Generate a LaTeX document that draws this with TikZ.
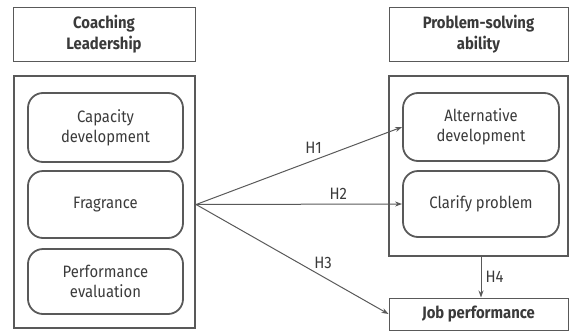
\documentclass[tikz,border=0pt]{standalone}
\usepackage{fontspec}
\setmainfont{Fira Sans}[FakeStretch=0.9]
\usetikzlibrary{arrows.meta}
\definecolor{ln}{HTML}{595959}
\definecolor{tx}{HTML}{3a3a3a}
\begin{document}
\begin{tikzpicture}[x=1pt,y=-1pt,
  every node/.style={text=tx, font=\fontsize{16.5}{20}\selectfont, align=center, inner sep=0pt},
  titlebox/.style={draw=ln, line width=1pt, font=\fontsize{16.5}{21}\selectfont\bfseries},
  outerbox/.style={draw=ln, line width=2.2pt},
  subbox/.style={draw=ln, line width=1.8pt, rounded corners=15pt},
  arr/.style={draw=ln, line width=1pt, -{Stealth[length=7pt,width=5pt]}},
  lbl/.style={font=\fontsize{16.5}{20}\selectfont}
]
\useasboundingbox (0,0) rectangle (569,332);
% left
\node[titlebox, minimum width=182pt, minimum height=54pt] (lt) at (104,34) {Coaching\\Leadership};
\node[outerbox, minimum width=181pt, minimum height=252pt] (lo) at (104.5,202) {};
\node[subbox, minimum width=155pt, minimum height=69pt] (cap) at (105.5,127.5) {Capacity\\development};
\node[subbox, minimum width=155pt, minimum height=67pt] (fra) at (105.5,204.5) {Fragrance};
\node[subbox, minimum width=155pt, minimum height=65pt] (per) at (105.5,281.5) {Performance\\evaluation};
% right
\node[titlebox, minimum width=179pt, minimum height=54pt] (rt) at (478.5,34) {Problem-solving\\ability};
\node[outerbox, minimum width=179pt, minimum height=180pt] (ro) at (478.5,166) {};
\node[subbox, minimum width=156pt, minimum height=68pt] (alt) at (481,127) {Alternative\\development};
\node[subbox, minimum width=156pt, minimum height=66pt] (cla) at (481,204) {Clarify problem};
\node[titlebox, minimum width=179pt, minimum height=32pt] (job) at (478.5,314) {Job performance};
% connectors
\coordinate (src) at (lo.east |- fra.center);
\draw[arr] (src) -- node[lbl, pos=0.57, above=6pt] (h1) {H1} (alt.west);
\draw[arr] (src) -- node[lbl, pos=0.69, above=4pt] (h2) {H2} (cla.west);
\draw[arr] (src) -- node[lbl, pos=0.66, above=8pt] (h3) {H3} (job.west);
\draw[arr] (alt.center |- ro.south) -- node[lbl, right=4pt] (h4) {H4} (alt.center |- job.north);
\end{tikzpicture}
\end{document}
